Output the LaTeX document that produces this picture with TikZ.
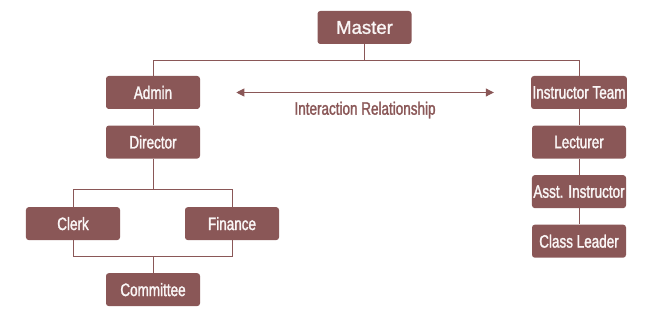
\documentclass[tikz,border=0pt]{standalone}
\usepackage{fontspec}
\setmainfont{Liberation Sans}[FakeBold=1.2]
\newfontfamily\condfont{Liberation Sans}[FakeStretch=0.75,FakeBold=1.5]
\usepackage{xcolor}
\usepackage{tikz}
\usetikzlibrary{arrows.meta,positioning}
\definecolor{orgred}{RGB}{138,87,87}
\definecolor{orgtext}{RGB}{250,246,246}

\begin{document}
\begin{tikzpicture}[
  node distance=0.4cm and 0.9cm,
  box/.style={rounded corners=2pt, fill=orgred, text=orgtext, minimum width=2.35cm, minimum height=0.825cm, inner sep=1pt, align=center, font=\condfont\fontsize{12.8}{14}\selectfont},
  top/.style={box, font=\fontsize{13.2}{15}\selectfont},
  line/.style={draw=orgred, line width=0.7pt},
  arr/.style={{Triangle[length=0.2cm,width=0.2cm]}-{Triangle[length=0.2cm,width=0.2cm]}, line width=0.7pt, draw=orgred, fill=orgred}
]
\useasboundingbox (0,0) rectangle (16.5,-7.975);
\node[top] (master) at (9.1125,-0.6875) {Master};
\node[box] (admin) at (3.825,-2.3125) {Admin};
\node[box, below=of admin] (director) {Director};
\node[box, below=1.2cm of director, xshift=-2cm] (clerk) {Clerk};
\node[box, below=1.2cm of director, xshift=1.975cm] (finance) {Finance};
\node[box, below=2.85cm of director] (committee) {Committee};
\node[box] (team) at (14.475,-2.3125) {Instructor Team};
\node[box, below=of team] (lecturer) {Lecturer};
\node[box, below=of lecturer] (asst) {Asst. Instructor};
\node[box, below=of asst] (leader) {Class Leader};

\coordinate[right=of admin.east] (relL);
\coordinate[left=0.925cm of team.west] (relR);

\draw[line] (master.south) -- ++(0,-0.4) -| (admin.north);
\draw[line] (master.south) -- ++(0,-0.4) -| (team.north);
\draw[line] (admin) -- (director);
\draw[line] (director.south) -- ++(0,-0.775) -| (clerk.north);
\draw[line] (director.south) -- ++(0,-0.775) -| (finance.north);
\draw[line] (clerk.south) -- ++(0,-0.4) coordinate (merge) -| (finance.south);
\draw[line] (committee.north) -- (committee.north |- merge);
\draw[line] (team) -- (lecturer);
\draw[line] (lecturer) -- (asst);
\draw[line] (asst) -- (leader);
\draw[arr] (relL) -- node[below=0.1cm, text=orgred, font=\condfont\fontsize{12.8}{14}\selectfont] (rel) {Interaction Relationship} (relR);
\end{tikzpicture}
\end{document}
